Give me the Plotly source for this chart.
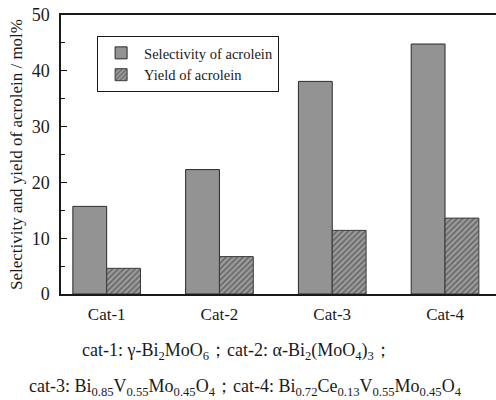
import plotly.graph_objects as go

categories = ["Cat-1", "Cat-2", "Cat-3", "Cat-4"]
selectivity = [15.7, 22.3, 38.1, 44.8]
yield_vals = [4.6, 6.7, 11.4, 13.6]
y_ticks = [0, 10, 20, 30, 40, 50]

x_pos = list(range(1, len(categories) + 1))

SERIF = "Liberation Serif"
CAP_FONT = "Liberation Serif"

fig = go.Figure()
fig.add_trace(go.Bar(
    x=x_pos, y=selectivity, name="Selectivity of acrolein",
    marker=dict(color="#939393", line=dict(color="#2a2a2a", width=1)),
))
fig.add_trace(go.Bar(
    x=x_pos, y=yield_vals, name="Yield of acrolein",
    marker=dict(color="#9a9a9a",
                pattern=dict(shape="/", size=4, solidity=0.4,
                             fgcolor="#2e2e2e", bgcolor="#9c9c9c"),
                line=dict(color="#3a3a3a", width=1)),
))

fig.update_layout(
    width=496, height=400,
    margin=dict(l=61, r=0, t=15, b=106),
    paper_bgcolor="white", plot_bgcolor="white",
    barmode="group", bargap=0.4, bargroupgap=0,
    font=dict(family=SERIF, color="#1a1a1a"),
    showlegend=True,
    legend=dict(x=0.083, y=0.925, xanchor="left", yanchor="top",
                bordercolor="#1a1a1a", borderwidth=1, bgcolor="white",
                font=dict(family=SERIF, size=14.5), tracegroupgap=0,
                itemwidth=36, entrywidth=200),
    xaxis=dict(range=[0.595, 4.452], tickvals=x_pos, ticktext=categories,
               showline=True, linecolor="#1a1a1a", linewidth=1.5, mirror=True,
               ticks="", showgrid=False, zeroline=False,
               tickfont=dict(family=SERIF, size=17), ticklabelstandoff=4),
    yaxis=dict(range=[0, 50], tickvals=y_ticks,
               showline=True, linecolor="#1a1a1a", linewidth=1.5,
               ticks="inside", ticklen=6, tickwidth=1, tickcolor="#1a1a1a",
               minor=dict(ticks="inside", ticklen=4, dtick=5, tickcolor="#1a1a1a", showgrid=False),
               showgrid=False, zeroline=False,
               tickfont=dict(family=SERIF, size=18), ticklabelstandoff=6,
               title=dict(text="Selectivity and yield of acrolein / mol%",
                          font=dict(family=SERIF, size=17), standoff=5)),
)

fig.add_annotation(
    text="cat-1: γ-Bi<sub>2</sub>MoO<sub>6</sub>；cat-2: α-Bi<sub>2</sub>(MoO<sub>4</sub>)<sub>3</sub>；",
    xref="paper", yref="paper", x=0.405, y=-0.205, xanchor="center", yanchor="middle",
    showarrow=False, font=dict(family=CAP_FONT, size=18, color="#1a1a1a"))
fig.add_annotation(
    text="cat-3: Bi<sub>0.85</sub>V<sub>0.55</sub>Mo<sub>0.45</sub>O<sub>4</sub>；cat-4: Bi<sub>0.72</sub>Ce<sub>0.13</sub>V<sub>0.55</sub>Mo<sub>0.45</sub>O<sub>4</sub>",
    xref="paper", yref="paper", x=0.423, y=-0.335, xanchor="center", yanchor="middle",
    showarrow=False, font=dict(family=CAP_FONT, size=18, color="#1a1a1a"))

fig.write_html("out.html", config={"displayModeBar": False},
               post_script="document.body.style.margin='0';")
